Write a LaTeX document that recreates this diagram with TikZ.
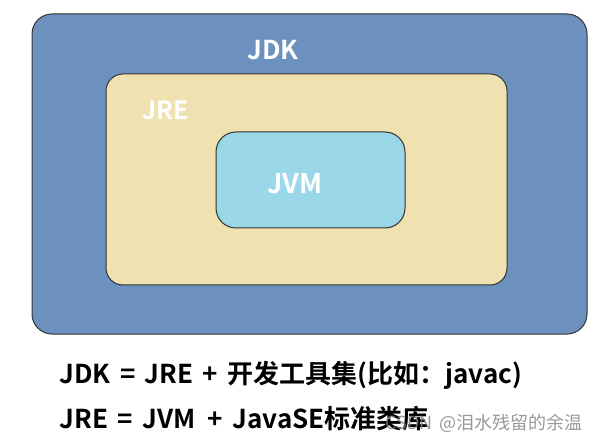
\documentclass[tikz,border=0pt]{standalone}
\usepackage{fontspec}
\setmainfont{Noto Sans CJK SC}[BoldFont={Noto Sans CJK SC Bold}, WordSpace=1.6]
\definecolor{jdkblue}{RGB}{108,145,190}
\definecolor{jrebeige}{RGB}{239,226,176}
\definecolor{jvmcyan}{RGB}{154,216,233}
\definecolor{edgegray}{RGB}{50,50,50}

\begin{document}
\begin{tikzpicture}[x=1pt,y=-1pt]
        \useasboundingbox (0,0) rectangle (615,443);
        % JDK box
        \filldraw[fill=jdkblue, draw=edgegray, line width=1pt, rounded corners=20pt] (32,14) rectangle (587,334);
        % JRE box
        \filldraw[fill=jrebeige, draw=edgegray, line width=1pt, rounded corners=17pt] (106,74) rectangle (507,285);
        % JVM box
        \filldraw[fill=jvmcyan, draw=edgegray, line width=1pt, rounded corners=20pt] (216,132) rectangle (405,228);
        % Box labels
        \node[text=white, font=\bfseries\fontsize{26}{30}\selectfont] (jdk) at (273,50) {JDK};
        \node[text=white, font=\bfseries\fontsize{25}{30}\selectfont] (jre) at (166,110) {JRE};
        \node[text=white, font=\bfseries\fontsize{27}{30}\selectfont] (jvm) at (295,184) {JVM};
        % Formulas
        \node[anchor=base west, font=\bfseries\fontsize{26}{30}\selectfont] (eq1) at (56,383) {JDK = JRE + 开发工具集(比如：javac)};
        \node[anchor=base west, font=\bfseries\fontsize{26}{30}\selectfont] (eq2) at (56,428) {JRE = JVM\hspace{3pt} + JavaSE标准类库};
        % Watermark
        \node[anchor=base west, text=gray, opacity=0.8, font=\fontsize{18}{20}\selectfont] (mark) at (382,429) {CSDN @泪水残留的余温};
      \end{tikzpicture}
\end{document}
